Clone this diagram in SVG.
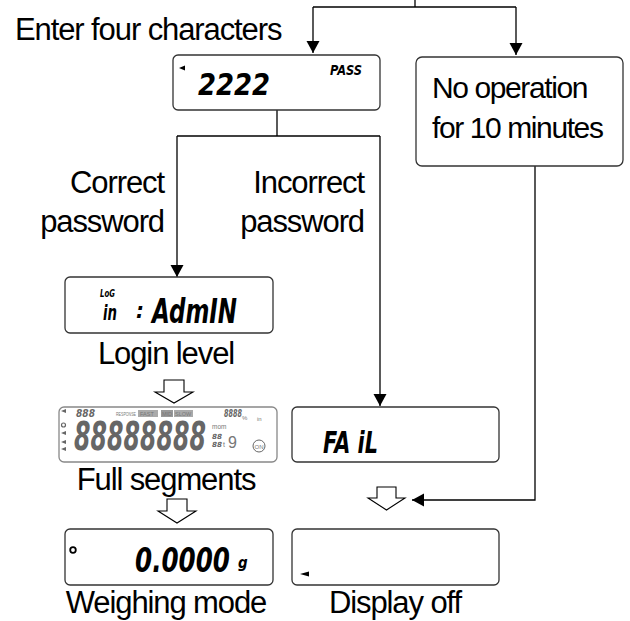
<svg xmlns="http://www.w3.org/2000/svg" width="630" height="621" viewBox="0 0 630 621">
<defs>
<style>
.lbl{font-family:"Liberation Sans",Arial,sans-serif;font-size:31px;letter-spacing:-1.1px;fill:#000}
.lbl2{font-family:"Liberation Sans",Arial,sans-serif;font-size:30px;letter-spacing:-1.4px;fill:#000}
.box{fill:#fff;stroke:#333;stroke-width:1.3}
.lcd{font-family:"Liberation Sans Narrow","DejaVu Sans Condensed",sans-serif;font-weight:bold;font-style:italic;fill:#000}
.seg{font-family:"Liberation Sans Narrow","DejaVu Sans Condensed",sans-serif;font-weight:bold;font-style:italic;fill:#666}
.tiny{font-family:"Liberation Sans","DejaVu Sans",sans-serif;fill:#777}
.ln{fill:none;stroke:#000;stroke-width:1.3}
.hollow{fill:#fff;stroke:#000;stroke-width:1.1}
</style>
<marker id="ah" markerUnits="userSpaceOnUse" markerWidth="14" markerHeight="14" viewBox="0 0 14 14" refX="12" refY="7" orient="auto">
<path d="M0,0.5 L12,7 L0,13.5 Z" fill="#000"/>
</marker>
</defs>
<rect width="630" height="621" fill="#fff"/>

<g id="connectors">
<path class="ln" d="M415,0 V7"/>
<path class="ln" d="M313,7 H516"/>
<path class="ln" d="M313,7 V53" marker-end="url(#ah)"/>
<path class="ln" d="M516,7 V55" marker-end="url(#ah)"/>
<path class="ln" d="M277,110 V136"/>
<path class="ln" d="M177,136 H380"/>
<path class="ln" d="M177,136 V277" marker-end="url(#ah)"/>
<path class="ln" d="M380,136 V406" marker-end="url(#ah)"/>
<path class="ln" d="M535,166 V500 H412" marker-end="url(#ah)"/>
<polygon class="hollow" points="164,380 184,380 184,392 193,392 174,403 155,392 164,392"/>
<polygon class="hollow" points="167,499 187,499 187,511 196,511 177,523 158,511 167,511"/>
<polygon class="hollow" points="377,487 396,487 396,498 405,498 386.5,510 368,498 377,498"/>
</g>

<g id="label-enter">
<text class="lbl" x="15" y="40">Enter four characters</text>
</g>

<g id="node-pass">
<rect class="box" x="173" y="55" width="207" height="55" rx="5"/>
<polygon points="179,68 185,65.5 185,70.5" fill="#000"/>
<text class="lcd" x="198" y="95" font-size="31" textLength="72" lengthAdjust="spacingAndGlyphs">2222</text>
<text class="lcd" x="330" y="75" font-size="14" textLength="32" lengthAdjust="spacingAndGlyphs">PASS</text>
</g>

<g id="node-noop">
<rect class="box" x="416" y="57" width="207" height="109" rx="6"/>
<text class="lbl2" x="432" y="98">No operation</text>
<text class="lbl2" x="432" y="138">for 10 minutes</text>
</g>

<g id="label-correct">
<text class="lbl" x="164" y="193" text-anchor="end">Correct</text>
<text class="lbl" x="164" y="232" text-anchor="end">password</text>
</g>

<g id="label-incorrect">
<text class="lbl" x="364" y="193" text-anchor="end">Incorrect</text>
<text class="lbl" x="364" y="232" text-anchor="end">password</text>
</g>

<g id="node-login">
<rect class="box" x="65" y="277" width="208" height="56" rx="5"/>
<text class="lcd" x="100" y="297" font-size="11" textLength="15" lengthAdjust="spacingAndGlyphs">LoG</text>
<text class="lcd" x="103" y="320" font-size="22" textLength="14" lengthAdjust="spacingAndGlyphs">in</text>
<text class="lcd" x="136" y="318" font-size="22">:</text>
<text class="lcd" x="152" y="323" font-size="34" textLength="85" lengthAdjust="spacingAndGlyphs">AdmIN</text>
<text class="lbl" x="166" y="364" text-anchor="middle">Login level</text>
</g>

<g id="node-full">
<rect x="59" y="407" width="218" height="55" rx="5" fill="#fff" stroke="#888" stroke-width="1.3"/>
<text class="seg" x="76" y="417" font-size="10" textLength="19" lengthAdjust="spacingAndGlyphs">888</text>
<text class="tiny" x="116" y="416" font-size="4.5" textLength="20" lengthAdjust="spacingAndGlyphs">RESPONSE</text>
<rect x="138" y="410" width="20" height="7" fill="#aaa"/>
<text class="tiny" x="140" y="416" font-size="5.5" fill="#eee">FAST</text>
<rect x="161" y="410" width="12" height="7" fill="#999"/>
<text class="tiny" x="162" y="416" font-size="5.5" fill="#eee">MID</text>
<rect x="174" y="410" width="19" height="7" fill="#aaa"/>
<text class="tiny" x="175" y="416" font-size="5.5" fill="#eee">SLOW</text>
<text class="seg" x="224" y="417" font-size="11" textLength="18" lengthAdjust="spacingAndGlyphs">8888</text>
<text class="tiny" x="242" y="420" font-size="6">%</text>
<text class="tiny" x="257" y="421" font-size="6">in</text>
<polygon points="61,411 66,409 66,413" fill="#666"/>
<circle cx="63.5" cy="425" r="2" fill="none" stroke="#666" stroke-width="1.2"/>
<polygon points="61,433 66,431 66,435" fill="#666"/>
<polygon points="61,442 66,440 66,444" fill="#666"/>
<polygon points="61,449 66,447 66,451" fill="#666"/>
<text class="seg" x="74" y="450" font-size="39" textLength="132" lengthAdjust="spacingAndGlyphs">88888888</text>
<text class="tiny" x="212" y="429" font-size="6.5">mom</text>
<text class="seg" x="212" y="438.5" font-size="7" textLength="10" lengthAdjust="spacingAndGlyphs">88</text>
<text class="seg" x="212" y="447" font-size="7" textLength="10" lengthAdjust="spacingAndGlyphs">88</text>
<text class="tiny" x="223" y="447" font-size="7">t</text>
<text class="tiny" x="228" y="448" font-size="16">9</text>
<circle cx="259" cy="446" r="6" fill="none" stroke="#666" stroke-width="1"/>
<text class="tiny" x="259" y="448.5" font-size="6" text-anchor="middle">ON</text>
<text class="lbl" x="166" y="490" text-anchor="middle">Full segments</text>
</g>

<g id="node-weighing">
<rect class="box" x="65" y="529" width="208" height="56" rx="5"/>
<circle cx="73" cy="550" r="2.8" fill="none" stroke="#000" stroke-width="1.8"/>
<text class="lcd" x="135" y="572" font-size="33" textLength="95" lengthAdjust="spacingAndGlyphs">0.0000</text>
<text class="lcd" x="238" y="568" font-size="15">g</text>
<text class="lbl" x="166" y="613" text-anchor="middle">Weighing mode</text>
</g>

<g id="node-fail">
<rect class="box" x="292" y="407" width="207" height="55" rx="5"/>
<text class="lcd" x="323" y="453" font-size="31" textLength="55" lengthAdjust="spacingAndGlyphs">FA iL</text>
</g>

<g id="node-off">
<rect class="box" x="292" y="529" width="207" height="56" rx="5"/>
<polygon points="300,574 309,571.5 309,576.5" fill="#000"/>
<text class="lbl" x="395" y="613" text-anchor="middle">Display off</text>
</g>
</svg>
